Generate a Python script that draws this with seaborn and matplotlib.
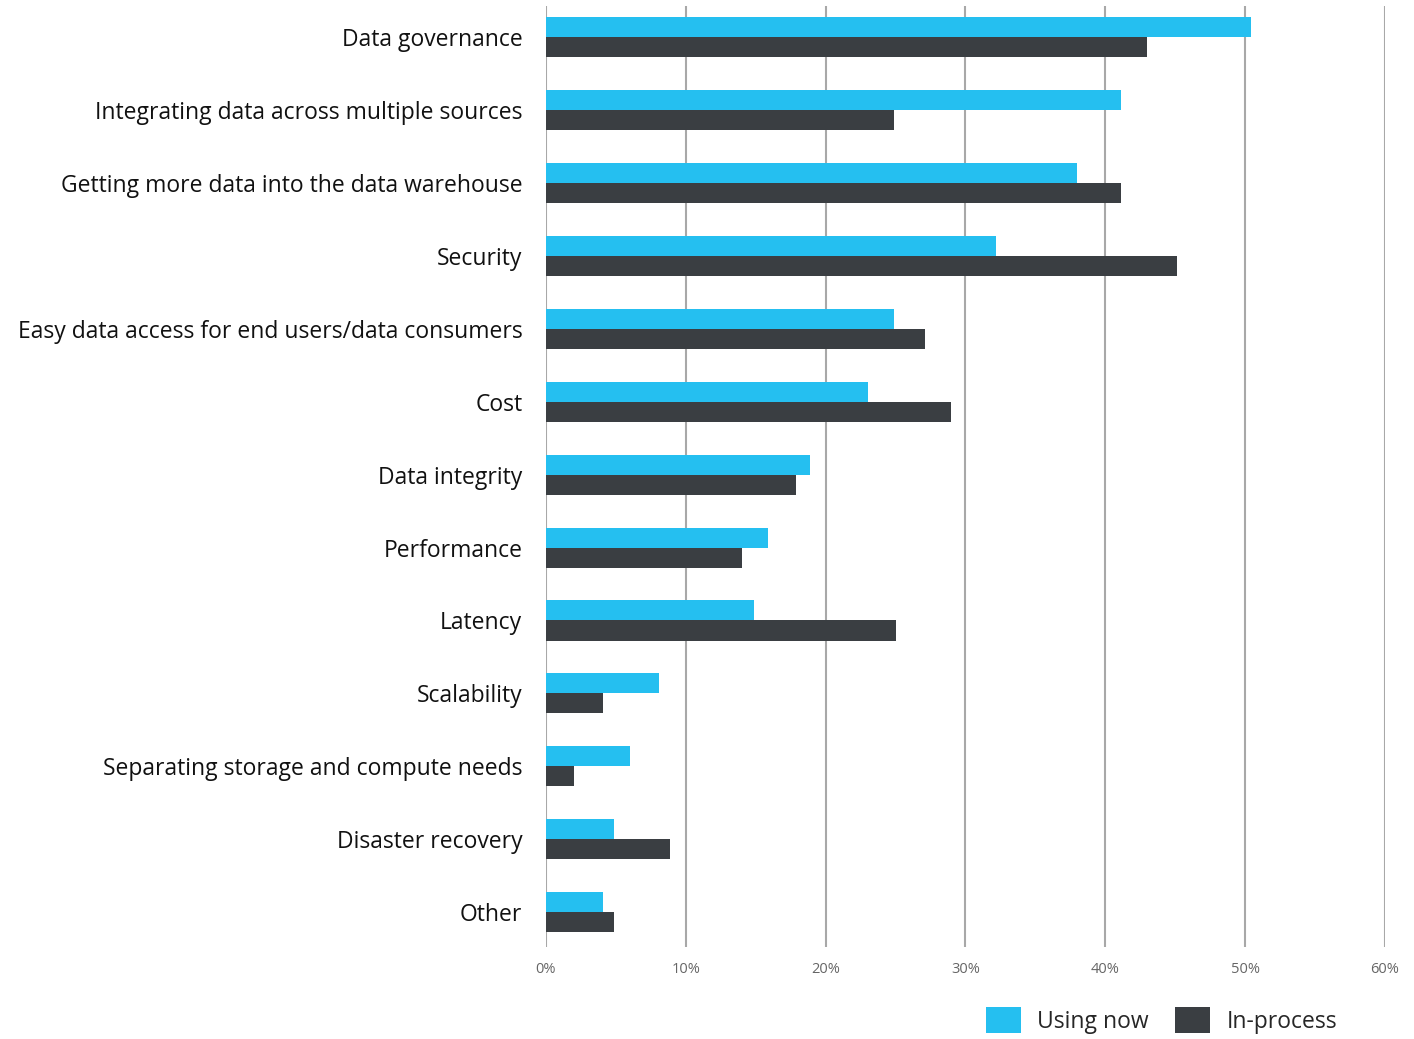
import pandas as pd
import matplotlib.pyplot as plt
import seaborn as sns
from matplotlib.patches import Patch

categories = [
    "Data governance",
    "Integrating data across multiple sources",
    "Getting more data into the data warehouse",
    "Security",
    "Easy data access for end users/data consumers",
    "Cost",
    "Data integrity",
    "Performance",
    "Latency",
    "Scalability",
    "Separating storage and compute needs",
    "Disaster recovery",
    "Other",
]
using_now = [50.4, 41.1, 38.0, 32.2, 24.9, 23.0, 18.9, 15.9, 14.9, 8.1, 6.0, 4.9, 4.1]
in_process = [43.0, 24.9, 41.1, 45.1, 27.1, 29.0, 17.9, 14.0, 25.0, 4.1, 2.0, 8.9, 4.9]
series = ["Using now", "In-process"]
colors = ["#25BFF0", "#3A3E42"]
xticks = [0, 10, 20, 30, 40, 50, 60]

df = pd.DataFrame({
    "category": categories * 2,
    "value": using_now + in_process,
    "series": [series[0]] * len(categories) + [series[1]] * len(categories),
})

sns.set_style("white")
plt.rcParams["font.family"] = ["Open Sans", "DejaVu Sans"]

fig = plt.figure(figsize=(14.14, 10.39), dpi=100)
ax = fig.add_axes([0.3861, 0.0885, 0.5934, 0.9057])

sns.barplot(data=df, x="value", y="category", hue="series", palette=colors,
            order=categories, hue_order=series, width=0.55, orient="h",
            saturation=1, linewidth=0, legend=False, ax=ax)

ax.set_xlim(0, 60)
ax.set_ylim(12.48, -0.43)
ax.set_xticks(xticks)
ax.set_xticklabels([f"{t}%" for t in xticks], color="#666666", fontsize=10.5)
ax.tick_params(axis="x", length=0, pad=11)
ax.tick_params(axis="y", length=0, pad=17, labelsize=16.5, labelcolor="#111111")
ax.set_xlabel("")
ax.set_ylabel("")
for s in ax.spines.values():
    s.set_visible(False)
ax.set_axisbelow(True)
ax.xaxis.grid(True, color="#A8A8A8", linewidth=1.5)

handles = [Patch(facecolor=c, label=s, linewidth=0) for c, s in zip(colors, series)]
fig.legend(handles=handles, loc="upper left", bbox_to_anchor=(0.697, 0.031),
           ncol=2, frameon=False, fontsize=16.5, handlelength=1.53, handleheight=1.4,
           handletextpad=0.72, columnspacing=1.15, borderaxespad=0, borderpad=0)

fig.savefig("out.png", dpi=100)
